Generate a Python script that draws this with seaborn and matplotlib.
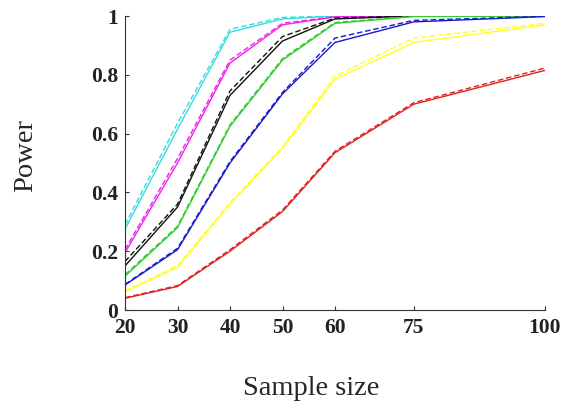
import matplotlib
matplotlib.use("Agg")
import matplotlib.pyplot as plt
import seaborn as sns

sizes = [20, 30, 40, 50, 60, 75, 100]

cyan_solid = [0.275, 0.615, 0.945, 0.99, 1.0, 1.0, 1.0]
cyan_dash = [0.29, 0.635, 0.955, 0.995, 1.0, 1.0, 1.0]
magenta_solid = [0.195, 0.50, 0.84, 0.97, 0.997, 1.0, 1.0]
magenta_dash = [0.205, 0.515, 0.85, 0.975, 0.998, 1.0, 1.0]
black_solid = [0.15, 0.35, 0.73, 0.915, 0.99, 1.0, 1.0]
black_dash = [0.165, 0.36, 0.745, 0.93, 0.993, 1.0, 1.0]
green_solid = [0.115, 0.28, 0.625, 0.85, 0.975, 0.998, 1.0]
green_dash = [0.12, 0.285, 0.63, 0.855, 0.978, 0.999, 1.0]
blue_solid = [0.085, 0.205, 0.50, 0.735, 0.91, 0.98, 0.998]
blue_dash = [0.087, 0.21, 0.505, 0.74, 0.925, 0.985, 0.999]
yellow_solid = [0.062, 0.145, 0.36, 0.55, 0.785, 0.91, 0.97]
yellow_dash = [0.065, 0.15, 0.365, 0.555, 0.795, 0.925, 0.975]
red_solid = [0.04, 0.08, 0.20, 0.335, 0.535, 0.70, 0.815]
red_dash = [0.042, 0.083, 0.205, 0.34, 0.54, 0.705, 0.823]

series = [
    ("#33dddd", cyan_solid, cyan_dash),
    ("#ee22ee", magenta_solid, magenta_dash),
    ("#111111", black_solid, black_dash),
    ("#33cc33", green_solid, green_dash),
    ("#1a1acc", blue_solid, blue_dash),
    ("#ffff22", yellow_solid, yellow_dash),
    ("#dd2222", red_solid, red_dash),
]

sns.set_style("ticks")
plt.rcParams["font.family"] = ["Liberation Serif", "DejaVu Serif"]

fig = plt.figure(figsize=(5.63, 4.09), dpi=100)
ax = fig.add_axes([125 / 563, 1 - 310 / 409, 420 / 563, 294 / 409])

for color, solid, dash in series:
    sns.lineplot(x=sizes, y=solid, color=color, linewidth=1.0, ax=ax)
    sns.lineplot(x=sizes, y=dash, color=color, linewidth=1.0, ax=ax,
                 linestyle=(0, (4, 2)))

ax.set_xlim(20, 100)
ax.set_ylim(0, 1)
ax.set_xticks(sizes)
ax.set_xticklabels([str(s) for s in sizes])
ax.set_yticks([0, 0.2, 0.4, 0.6, 0.8, 1.0])
ax.set_yticklabels(["0", "0.2", "0.4", "0.6", "0.8", "1"])
ax.tick_params(direction="in", length=3, width=0.8, colors="#333333",
               labelcolor="#222222", labelsize=15.5)
ax.tick_params(axis="x", pad=5.5)
ax.tick_params(axis="y", pad=5)
for lab in ax.get_xticklabels() + ax.get_yticklabels():
    lab.set_fontweight("bold")
for s in ["top", "right"]:
    ax.spines[s].set_visible(False)
for s in ["left", "bottom"]:
    ax.spines[s].set_linewidth(0.8)
    ax.spines[s].set_color("#333333")

ax.set_xlabel("Sample size", fontsize=20.5)
ax.set_ylabel("Power", fontsize=20.5)
ax.xaxis.set_label_coords((311 - 125) / 420, (310 - 376) / 294)
ax.yaxis.set_label_coords((38 - 125) / 420, (310 - 155) / 294)

fig.savefig("out.png", dpi=100)
